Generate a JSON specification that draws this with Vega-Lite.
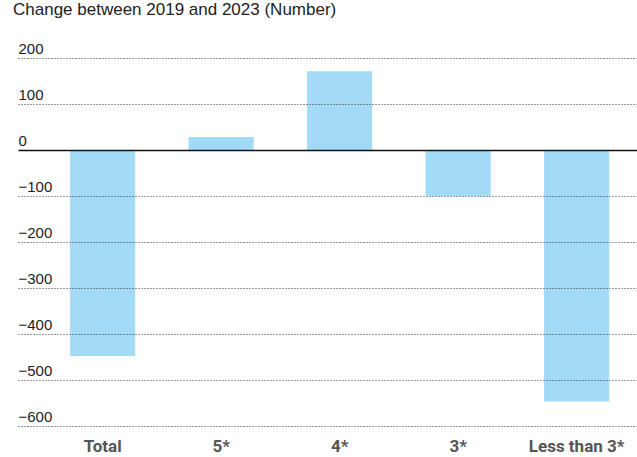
{
  "$schema": "https://vega.github.io/schema/vega-lite/v6.json",
  "width": 619,
  "height": 368,
  "autosize": "none",
  "padding": {"left": 18, "top": 58, "right": 0, "bottom": 31},
  "background": "white",
  "title": {
    "text": "Change between 2019 and 2023 (Number)",
    "anchor": "start",
    "dx": -5,
    "offset": 22,
    "font": "Liberation Sans",
    "fontSize": 17,
    "fontWeight": "normal",
    "color": "#222222"
  },
  "data": {
    "values": [
      {"category": "Total", "change": -448},
      {"category": "5*", "change": 28},
      {"category": "4*", "change": 171},
      {"category": "3*", "change": -100},
      {"category": "Less than 3*", "change": -547}
    ]
  },
  "mark": {"type": "bar", "color": "#a3dbf7"},
  "encoding": {
    "x": {
      "field": "category",
      "type": "nominal",
      "sort": null,
      "scale": {"paddingInner": 0.45, "paddingOuter": 0.337, "align": 0.652},
      "axis": {
        "title": null,
        "domain": false,
        "ticks": false,
        "labelAngle": 0,
        "labelPadding": 12,
        "labelFont": "Roboto",
        "labelFontSize": 17,
        "labelFontWeight": "bold",
        "labelColor": "#555555"
      }
    },
    "y": {
      "field": "change",
      "type": "quantitative",
      "scale": {"domain": [-600, 200], "nice": false},
      "axis": {
        "title": null,
        "domain": false,
        "ticks": false,
        "values": [-600, -500, -400, -300, -200, -100, 0, 100, 200],
        "labelAlign": "left",
        "labelBaseline": "alphabetic",
        "labelFlush": false,
        "labelPadding": 0,
        "labelOffset": -5,
        "labelFont": "Liberation Sans",
        "labelFontSize": 15,
        "labelColor": "#222222",
        "grid": true,
        "gridColor": {"condition": {"test": "datum.value === 0", "value": "#111111"}, "value": "#333333"},
        "gridDash": {"condition": {"test": "datum.value === 0", "value": []}, "value": [1, 2]},
        "gridWidth": {"condition": {"test": "datum.value === 0", "value": 1.5}, "value": 1},
        "zindex": 1
      }
    }
  },
  "config": {"view": {"stroke": null}}
}
